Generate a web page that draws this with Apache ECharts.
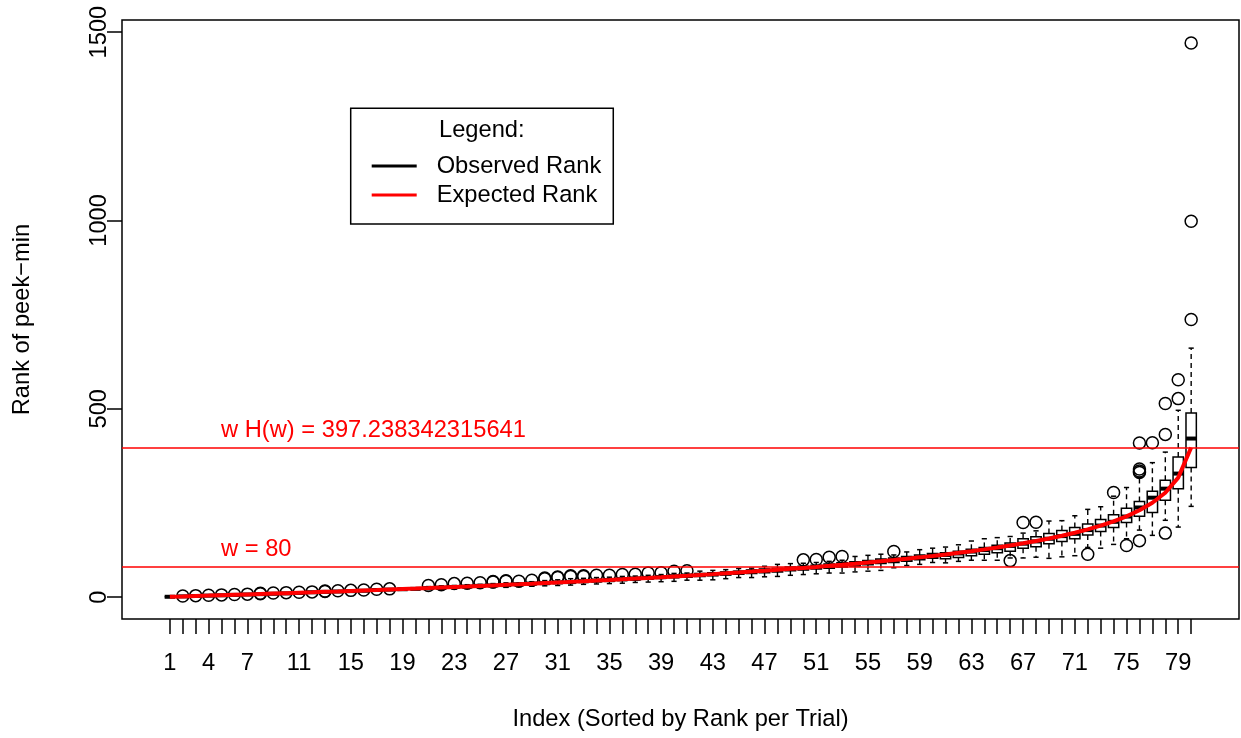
<!DOCTYPE html>
<html><head><meta charset="utf-8">
<script src="https://cdn.jsdelivr.net/npm/echarts@6/dist/echarts.min.js"></script>
<style>html,body{margin:0;padding:0;background:#fff}#c{width:1241px;height:738px}</style>
</head><body><div id="c"></div>
<script>
const indices = [1,2,3,4,5,6,7,8,9,10,11,12,13,14,15,16,17,18,19,20,21,22,23,24,25,26,27,28,29,30,31,32,33,34,35,36,37,38,39,40,41,42,43,44,45,46,47,48,49,50,51,52,53,54,55,56,57,58,59,60,61,62,63,64,65,66,67,68,69,70,71,72,73,74,75,76,77,78,79,80];
const expectedRank = [1.00,2.01,3.04,4.08,5.13,6.20,7.28,8.37,9.49,10.61,11.75,12.91,14.09,15.28,16.50,17.73,18.98,20.25,21.54,22.85,24.18,25.54,26.92,28.32,29.75,31.20,32.69,34.19,35.73,37.30,38.90,40.54,42.20,43.90,45.64,47.42,49.24,51.10,53.00,54.96,56.96,59.01,61.11,63.27,65.50,67.78,70.13,72.56,75.06,77.64,80.31,83.06,85.92,88.89,91.96,95.16,98.50,101.97,105.61,109.42,113.42,117.63,122.07,126.78,131.78,137.11,142.83,148.98,155.65,162.92,170.92,179.81,189.81,201.24,214.57,230.57,250.57,277.24,317.24,397.24];
const whiskerLow = [1,2,3,4,5,6,7,8,9,10,11,13,14,15,16,17,19,20,21,22,20,21,22,23,24,25,26,28,29,30,31,32,34,35,36,37,39,40,41,42,45,45,46,49,52,52,54,55,58,60,62,64,64,67,69,71,78,84,87,92,91,95,98,98,98,104,104,106,103,107,110,132,130,140,155,178,164,204,186,241];
const q1 = [1,2,3,4,5,6,7,8,9,10,11,13,14,15,16,17,19,20,21,22,23,24,25,27,28,29,31,32,34,35,37,38,40,41,43,45,46,48,50,52,53,55,57,59,61,63,65,67,70,72,75,77,80,83,86,89,92,95,99,103,102,105,110,114,118,122,130,134,142,148,155,165,174,185,198,215,225,257,288,344];
const median = [1,2,3,4,5,6,7,8,9,10,11,13,14,15,16,17,19,20,21,22,24,25,27,28,30,31,32,34,36,37,39,40,42,44,45,47,49,51,53,55,57,59,61,63,65,68,70,72,75,77,80,83,86,89,92,95,98,102,105,109,112,116,121,125,130,136,142,148,155,162,168,178,190,200,214,238,264,288,328,421];
const q3 = [1,2,3,4,5,6,7,8,9,10,11,13,14,15,16,17,19,20,21,22,25,27,28,30,31,33,34,36,37,39,41,43,44,46,48,50,52,54,56,58,60,63,65,67,69,72,75,77,80,82,85,88,91,94,97,101,104,108,112,116,118,122,127,132,138,144,155,160,169,177,185,194,206,219,236,254,281,310,372,489];
const whiskerHigh = [1,2,3,4,5,6,7,8,9,10,11,13,14,15,16,17,19,20,21,22,28,30,31,33,34,36,38,38,41,44,46,49,50,52,53,55,56,58,60,63,64,69,71,73,76,77,82,87,89,90,92,95,98,108,111,114,112,120,126,130,133,139,149,155,158,161,170,176,202,203,216,233,240,268,291,318,357,385,496,661];
const outlierIndex = [2,3,4,5,6,7,8,8,9,10,11,12,13,13,14,15,16,17,18,21,22,23,24,25,26,26,27,27,28,29,30,30,31,31,32,32,33,33,34,35,36,37,38,39,40,41,50,51,52,53,57,66,67,68,72,74,75,76,76,76,76,76,77,78,78,78,79,79,80,80,80];
const outlierValue = [3,4,5,6,7,8,9,10.5,11,12,13,14,15,16.5,17,18,19,21,22,31,33,36,37,38,40,41.5,42,43.5,42,45,49,50.5,52,53.5,55,56.5,55,56.5,58,58,60,61,64,65,69,70,99,100,106,108,121,97,198,199,114,278,137,150,331,335,340,409,410,170,432,514,527,577,737,998,1471];
const xTickValues = indices;
const xTickLabels = [1,4,7,11,15,19,23,27,31,35,39,43,47,51,55,59,63,67,71,75,79];
const yTickValues = [0,500,1000,1500];
const refLines = [80, 397.238342315641];
const refLabels = ['w = 80', 'w H(w) = 397.238342315641'];

const FONT = 'Liberation Sans, Arial, Helvetica, sans-serif';
const FS = 23.7;

const boxRows = indices.map((x, i) => [x, whiskerLow[i], q1[i], median[i], q3[i], whiskerHigh[i]]);
const curve = indices.map((x, i) => [x, expectedRank[i]]);
const outliers = outlierIndex.map((x, i) => [x, outlierValue[i]]);
const annot = refLines.map((y, i) => ({ value: [5, y], name: refLabels[i] }));

function renderBox(params, api) {
  const x = api.value(0);
  const lo = api.coord([x, api.value(1)]);
  const b1 = api.coord([x, api.value(2)]);
  const md = api.coord([x, api.value(3)]);
  const b3 = api.coord([x, api.value(4)]);
  const hi = api.coord([x, api.value(5)]);
  const hw = api.size([0.8, 0])[0] / 2;
  const sw = hw / 2;
  const cx = md[0];
  const ch = [];
  const dash = { stroke: '#000', lineWidth: 1.4, lineDash: [5, 4] };
  const solid = { stroke: '#000', lineWidth: 1.5 };
  if (lo[1] - b1[1] > 0.5) ch.push({ type: 'line', shape: { x1: cx, y1: b1[1], x2: cx, y2: lo[1] }, style: dash });
  if (b3[1] - hi[1] > 0.5) ch.push({ type: 'line', shape: { x1: cx, y1: b3[1], x2: cx, y2: hi[1] }, style: dash });
  ch.push({ type: 'line', shape: { x1: cx - sw, y1: lo[1], x2: cx + sw, y2: lo[1] }, style: solid });
  ch.push({ type: 'line', shape: { x1: cx - sw, y1: hi[1], x2: cx + sw, y2: hi[1] }, style: solid });
  ch.push({ type: 'rect', shape: { x: cx - hw, y: b3[1], width: 2 * hw, height: Math.max(b1[1] - b3[1], 0) }, style: { fill: 'none', stroke: '#000', lineWidth: 1.5 } });
  ch.push({ type: 'line', shape: { x1: cx - hw, y1: md[1], x2: cx + hw, y2: md[1] }, style: { stroke: '#000', lineWidth: 4 } });
  return { type: 'group', children: ch };
}

const chart = echarts.init(document.getElementById('c'), null, { renderer: 'canvas' });
chart.setOption({
  animation: false,
  backgroundColor: '#fff',
  textStyle: { fontFamily: FONT },
  title: {
    text: 'Legend:', left: 439, top: 118, padding: 0,
    textStyle: { fontSize: FS, fontWeight: 'normal', color: '#000', fontFamily: FONT, lineHeight: 24 }
  },
  legend: {
    orient: 'vertical', left: 350.7, top: 108.3,
    data: [{ name: 'Observed Rank', icon: 'rect' }, { name: 'Expected Rank', icon: 'rect' }],
    itemWidth: 45, itemHeight: 3, itemGap: 5,
    padding: [45.7, 12, 17, 21],
    borderColor: '#000', borderWidth: 1.5, borderRadius: 0,
    selectedMode: false,
    textStyle: { fontSize: FS, color: '#000', fontFamily: FONT, padding: [0, 0, 0, 15] }
  },
  grid: {
    left: 122, right: 2, top: 20, bottom: 119,
    show: true, borderColor: '#000', borderWidth: 1.5, backgroundColor: 'transparent',
    containLabel: false, outerBoundsMode: 'none'
  },
  xAxis: {
    type: 'value', min: -2.7, max: 83.7,
    axisLine: { show: false, onZero: false }, splitLine: { show: false },
    axisTick: { show: true, inside: false, length: 15, customValues: xTickValues, lineStyle: { color: '#000', width: 1.5 } },
    axisLabel: { customValues: xTickLabels, fontSize: FS, color: '#000', margin: 32, fontFamily: FONT, hideOverlap: false, formatter: v => String(v) },
    name: 'Index (Sorted by Rank per Trial)', nameLocation: 'middle', nameGap: 88,
    nameTextStyle: { fontSize: FS, color: '#000', fontFamily: FONT }
  },
  yAxis: {
    type: 'value', min: -58, max: 1532,
    axisLine: { show: false, onZero: false }, splitLine: { show: false },
    axisTick: { show: true, inside: false, length: 15, customValues: yTickValues, lineStyle: { color: '#000', width: 1.5 } },
    axisLabel: { customValues: yTickValues, rotate: 90, fontSize: FS, color: '#000', margin: 11, fontFamily: FONT, formatter: v => String(v) },
    name: 'Rank of peek\u2212min', nameLocation: 'middle', nameGap: 88, nameRotate: 90,
    nameTextStyle: { fontSize: FS, color: '#000', fontFamily: FONT }
  },
  series: [
    {
      name: 'Observed Rank', type: 'custom', renderItem: renderBox,
      data: boxRows, encode: { x: 0, y: [1, 2, 3, 4, 5] },
      itemStyle: { color: '#000' }, z: 2, silent: true
    },
    {
      name: 'outliers', type: 'scatter', data: outliers,
      symbol: 'circle', symbolSize: 12,
      itemStyle: { color: 'rgba(0,0,0,0)', borderColor: '#000', borderWidth: 1.5, opacity: 1 },
      z: 3, silent: true
    },
    {
      name: 'Expected Rank', type: 'line', data: curve,
      symbol: 'none', color: '#ff0000',
      itemStyle: { color: '#ff0000' },
      lineStyle: { color: '#ff0000', width: 4 },
      z: 5, silent: true,
      markLine: {
        silent: true, symbol: 'none', label: { show: false },
        lineStyle: { color: '#ff0000', width: 1.5, type: 'solid' },
        data: refLines.map(v => ({ yAxis: v }))
      }
    },
    {
      name: 'annotations', type: 'scatter', data: annot,
      symbolSize: 1, itemStyle: { color: 'rgba(0,0,0,0)', opacity: 1 }, silent: true, z: 6,
      label: {
        show: true, formatter: '{b}', position: [0, -17], align: 'left', verticalAlign: 'middle',
        color: '#ff0000', fontSize: FS, fontFamily: FONT, opacity: 1
      }
    }
  ]
});
</script>
</body></html>
